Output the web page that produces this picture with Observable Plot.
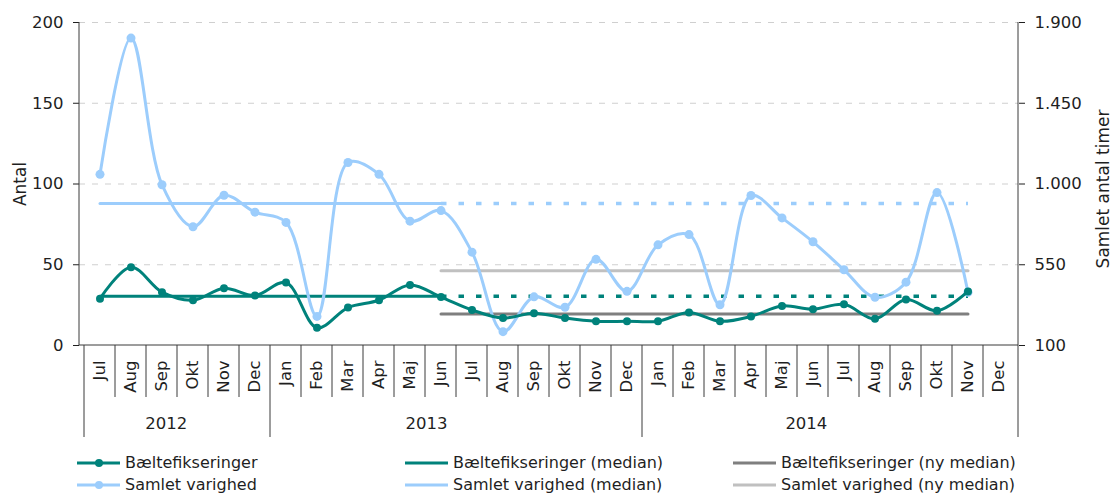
<!DOCTYPE html>
<html><head><meta charset="utf-8">
<script src="https://cdn.jsdelivr.net/npm/d3@7"></script>
<script src="https://cdn.jsdelivr.net/npm/@observablehq/plot@0.6"></script>
<style>
html,body{margin:0;background:#fff;font-family:"DejaVu Sans";color:#1f1f1f;overflow:hidden}
#legend{display:grid;grid-template-columns:328px 328px auto;margin-left:77px;padding-top:7px;font-size:16px;line-height:22px}
.item{display:flex;align-items:center;white-space:nowrap}
.item svg{margin-right:5px}
</style></head><body><div id="chart"></div><div id="legend"></div>
<script>
// ---- data ----
const months = ["2012-07","2012-08","2012-09","2012-10","2012-11","2012-12",
  "2013-01","2013-02","2013-03","2013-04","2013-05","2013-06","2013-07","2013-08","2013-09","2013-10","2013-11","2013-12",
  "2014-01","2014-02","2014-03","2014-04","2014-05","2014-06","2014-07","2014-08","2014-09","2014-10","2014-11","2014-12"];
const monthNames = ["Jan","Feb","Mar","Apr","Maj","Jun","Jul","Aug","Sep","Okt","Nov","Dec"];
const years = ["2012","2013","2014"];
// Bæltefikseringer (antal), Jul 2012 - Nov 2014
const baelte = [29,48.5,33,28,35.5,31,39,11,23.5,28,37.5,30,22,17,20,17,15,15,15,20.5,15,18,24.5,22.5,25.5,16.5,28.5,21.5,33.5];
// Samlet varighed (timer), Jul 2012 - Nov 2014
const varighed = [1054,1813,996,762,937,843,786,262,1120,1054,793,852,620,177,371,313,580,402,661,718,327,936,811,678,522,369,453,952,397];
const baelteMedian = 30.5;       // Jul 2012 - Jun 2013 (continued dotted to Nov 2014)
const varighedMedian = 892;      // timer
const baelteNyMedian = 19.5;     // Jun 2013 - Nov 2014
const varighedNyMedian = 516;    // timer
const leftTicks = [0,50,100,150,200];
const rightTicks = [100,550,1000,1450,1900];

// ---- helpers ----
const toY = h => (h - 100) / 9;       // right axis (timer) -> left axis units
const fmt = d3.formatLocale({decimal:",", thousands:".", grouping:[3], currency:["",""]}).format(",");
const monthLabel = m => monthNames[+m.slice(5) - 1];
const TEAL = "#00827b", LBLUE = "#9ccdfc", DGREY = "#7f7f7f", LGREY = "#c0c0c0";
const FONT = 16.5, TITLE = 17;

const baelteData = baelte.map((v, i) => ({m: months[i], v}));
const varData = varighed.map((h, i) => ({m: months[i], v: toY(h)}));
const seg = (a, b, v) => [{m: a, v}, {m: b, v}];
const firstM = months[0], splitM = "2013-06", lastM = "2014-11";

function decorations(index, scales, values, dims) {
  const g = d3.create("svg:g").attr("fill", "none").attr("stroke", "#3a3a3a").attr("stroke-width", 1);
  const x0 = dims.marginLeft, x1 = dims.width - dims.marginRight;
  const bw = (x1 - x0) / months.length;
  const y0 = scales.y(0), yTop = scales.y(200);
  g.append("line").attr("x1", x0).attr("x2", x0).attr("y1", yTop).attr("y2", y0);
  g.append("line").attr("x1", x1).attr("x2", x1).attr("y1", yTop).attr("y2", y0);
  g.append("line").attr("x1", x0).attr("x2", x1).attr("y1", y0).attr("y2", y0);
  for (let i = 0; i <= months.length; i++) {
    const xb = i < months.length ? scales.x(months[i]) : x1;
    const isYear = i === months.length || months[i].endsWith("-01") || i === 0;
    g.append("line").attr("x1", xb).attr("x2", xb).attr("y1", y0).attr("y2", y0 + (isYear ? 92 : 52));
  }
  // year labels
  const yearPos = [["2012-09", 0.65], ["2013-06", 0.05], ["2014-06", 0.3]];
  years.forEach((yr, k) => {
    const [m, f] = yearPos[k];
    g.append("text").attr("x", scales.x(m) + f * bw).attr("y", y0 + 79)
      .attr("stroke", "none").attr("fill", "#1f1f1f").attr("text-anchor", "middle")
      .attr("dominant-baseline", "middle").attr("font-size", FONT).text(yr);
  });
  return g.node();
}

const chart = Plot.plot({
  width: 1117, height: 445,
  marginLeft: 79, marginRight: 99, marginTop: 22, marginBottom: 100,
  style: {fontFamily: "DejaVu Sans", fontSize: FONT + "px", color: "#1f1f1f", background: "white"},
  x: {type: "band", domain: months, padding: 0, axis: null},
  y: {domain: [0, 200], axis: null},
  marks: [
    Plot.ruleY([50, 100, 150, 200], {stroke: "#cfcfcf", strokeDasharray: "6,7", strokeWidth: 1}),
    Plot.axisY(leftTicks, {anchor: "left", tickSize: 6, tickPadding: 10, label: null, fontSize: FONT}),
    Plot.axisY(rightTicks.map(toY), {anchor: "right", tickSize: 6, tickPadding: 10, label: null, fontSize: FONT, tickFormat: d => fmt(Math.round(d * 9 + 100))}),
    Plot.axisX(months, {anchor: "bottom", tickSize: 0, tickPadding: 15, tickRotate: -90, label: null, fontSize: FONT, tickFormat: monthLabel}),
    Plot.text(["Antal"], {frameAnchor: "left", textAnchor: "middle", dx: -59, rotate: -90, fontSize: TITLE, fill: "#1f1f1f"}),
    Plot.text(["Samlet antal timer"], {frameAnchor: "right", textAnchor: "middle", dx: 85, dy: 5, rotate: -90, fontSize: TITLE, fill: "#1f1f1f"}),
    decorations,
    // medians
    Plot.line(seg(splitM, lastM, toY(varighedNyMedian)), {x: "m", y: "v", stroke: LGREY, strokeWidth: 3}),
    Plot.line(seg(splitM, lastM, baelteNyMedian), {x: "m", y: "v", stroke: DGREY, strokeWidth: 3}),
    Plot.line(seg(firstM, splitM, toY(varighedMedian)), {x: "m", y: "v", stroke: LBLUE, strokeWidth: 3}),
    Plot.line(seg(splitM, lastM, toY(varighedMedian)), {x: "m", y: "v", stroke: LBLUE, strokeWidth: 3.5, strokeDasharray: "5.5,12", strokeLinecap: "butt"}),
    Plot.line(seg(firstM, splitM, baelteMedian), {x: "m", y: "v", stroke: TEAL, strokeWidth: 3}),
    Plot.line(seg(splitM, lastM, baelteMedian), {x: "m", y: "v", stroke: TEAL, strokeWidth: 3.5, strokeDasharray: "5.5,12", strokeLinecap: "butt"}),
    // series
    Plot.line(varData, {x: "m", y: "v", stroke: LBLUE, strokeWidth: 3, curve: "catmull-rom"}),
    Plot.dot(varData, {x: "m", y: "v", fill: LBLUE, r: 4.5}),
    Plot.line(baelteData, {x: "m", y: "v", stroke: TEAL, strokeWidth: 3, curve: "catmull-rom"}),
    Plot.dot(baelteData, {x: "m", y: "v", fill: TEAL, r: 4})
  ]
});
document.getElementById("chart").append(chart);

// ---- legend ----
const legendItems = [
  {label: "Bæltefikseringer", color: TEAL, dot: true},
  {label: "Bæltefikseringer (median)", color: TEAL},
  {label: "Bæltefikseringer (ny median)", color: DGREY},
  {label: "Samlet varighed", color: LBLUE, dot: true},
  {label: "Samlet varighed (median)", color: LBLUE},
  {label: "Samlet varighed (ny median)", color: LGREY}
];
const legend = d3.select("#legend");
legendItems.forEach(it => {
  const item = legend.append("div").attr("class", "item");
  const s = item.append("svg").attr("width", 43).attr("height", 12);
  s.append("line").attr("x1", 0).attr("x2", 43).attr("y1", 6).attr("y2", 6).attr("stroke", it.color).attr("stroke-width", 3);
  if (it.dot) s.append("circle").attr("cx", 22).attr("cy", 6).attr("r", 4).attr("fill", it.color);
  item.append("span").text(it.label);
});
</script></body></html>
